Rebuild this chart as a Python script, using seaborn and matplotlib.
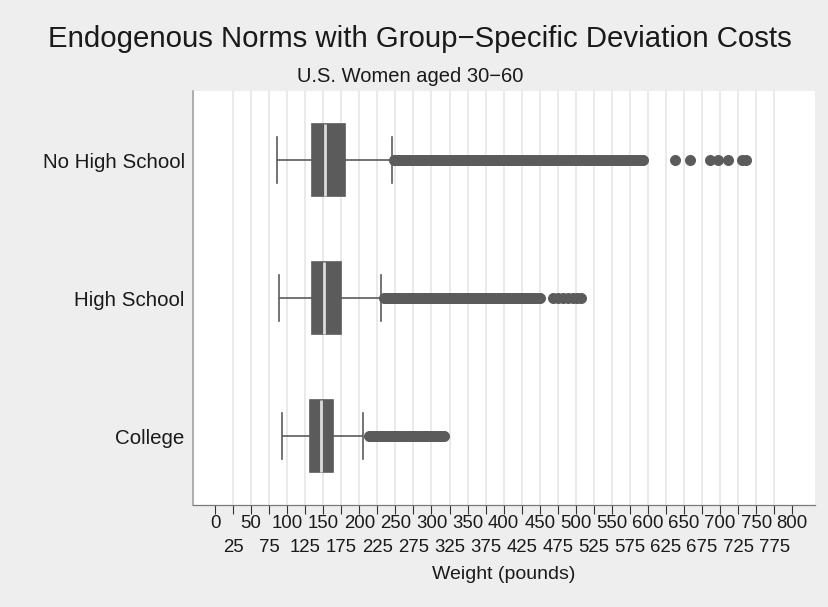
import matplotlib
matplotlib.use("Agg")
import matplotlib.pyplot as plt
import pandas as pd
import seaborn as sns

plt.rcParams['font.family'] = ['Liberation Sans', 'DejaVu Sans']

# ---------------- data ----------------
categories = ["No High School", "High School", "College"]
whisker_low = [85.5, 88.0, 93.5]
quartile_1 = [135.0, 135.0, 132.0]
medians = [152.5, 151.5, 146.5]
quartile_3 = [179.5, 174.5, 164.0]
whisker_high = [243.5, 230.0, 204.5]

outliers_no_high_school = [
    245, 248, 251, 254, 257, 260, 263, 266, 269, 272, 275, 278, 281, 284,
    287, 290, 293, 296, 299, 302, 305, 308, 311, 314, 317, 320, 323, 326,
    329, 332, 335, 338, 341, 344, 347, 350, 353, 356, 359, 362, 365, 368,
    371, 374, 377, 380, 383, 386, 389, 392, 395, 398, 401, 404, 407, 410,
    413, 416, 419, 422, 425,
    429, 433, 437, 441, 445, 449, 453, 457, 461, 465, 469, 473, 477, 481,
    485, 489, 493, 497, 501, 505, 509, 513, 517, 521, 525, 529, 533, 537,
    541, 545, 549, 553, 557, 561, 565, 569, 573, 577, 581, 585, 589, 593,
    637, 658, 686, 697, 711, 730, 736,
]
outliers_high_school = [
    234, 237, 240, 243, 246, 249, 252, 255, 258, 261, 264, 267, 270, 273,
    276, 279, 282, 285, 288, 291, 294, 297, 300, 303, 306, 309, 312, 315,
    318, 321, 324, 327, 330, 333, 336, 339, 342, 345, 348, 351, 354, 357,
    360, 363, 366, 369, 372, 375, 378, 381, 384, 387, 390, 393, 396, 399,
    402, 405, 408, 411, 414, 417, 420, 423, 426, 429, 432, 435, 438, 441,
    444, 447, 450,
    468, 475, 482, 489, 496, 502, 507,
]
outliers_college = [
    213, 216, 219, 222, 225, 228, 231, 234, 237, 240, 243, 246, 249, 252,
    255, 258, 261, 264, 267, 270, 273, 276, 279, 282, 285, 288, 291, 294,
    297, 300, 303, 306, 309, 312, 315, 318,
]
outliers = [outliers_no_high_school, outliers_high_school, outliers_college]

major_ticks = [0, 50, 100, 150, 200, 250, 300, 350, 400, 450, 500, 550,
               600, 650, 700, 750, 800]
minor_ticks = [25, 75, 125, 175, 225, 275, 325, 375, 425, 475, 525, 575,
               625, 675, 725, 775]
major_labels = [str(v) for v in major_ticks]
minor_labels = [str(v) for v in minor_ticks]

title = "Endogenous Norms with Group\u2212Specific Deviation Costs"
subtitle = "U.S. Women aged 30\u221260"
xlabel = "Weight (pounds)"

# Build observations whose quartiles / whiskers / outliers match the figure
block = 200
rows = []
for cat, lo, q1, md, q3, hi, fl in zip(categories, whisker_low, quartile_1,
                                       medians, quartile_3, whisker_high,
                                       outliers):
    vals = [lo] + [q1] * block + [md] * block + [q3] * block + [hi] + list(fl)
    rows += [(cat, v) for v in vals]
df = pd.DataFrame(rows, columns=["group", "weight"])

# ---------------- figure ----------------
W, H = 829, 607
bg = "#eeeeee"
box_color = "#5b5b5b"
text_color = "#1a1a1a"

fig = plt.figure(figsize=(W / 100, H / 100), dpi=100, facecolor=bg)
ax = fig.add_axes([193 / W, 1 - 505 / H, (815 - 193) / W, (505 - 91) / H])
ax.set_facecolor("white")
ax.set_axisbelow(True)

sns.boxplot(
    data=df, x="weight", y="group", order=categories, orient="h",
    color=box_color, linecolor=box_color, saturation=1, width=0.52,
    whis=1.5, linewidth=1.2, fliersize=7.2,
    medianprops=dict(color="#dcdcdc", linewidth=2.0),
    flierprops=dict(marker="o", markerfacecolor=box_color,
                    markeredgecolor=box_color, markeredgewidth=0.7),
    capwidths=0.34, ax=ax,
)

ax.set_xlim(-30.5, 831.5)
ax.set_ylim(2.5, -0.5)

ax.set_xticks(major_ticks)
ax.set_xticklabels(major_labels)
ax.set_xticks(minor_ticks, minor=True)
ax.set_xticklabels(minor_labels, minor=True)
ax.tick_params(axis="x", which="both", direction="out", length=6.5,
               width=0.8, color="#333333", labelsize=13.4,
               labelcolor=text_color)
ax.tick_params(axis="x", which="major", pad=1)
ax.tick_params(axis="x", which="minor", pad=18.3)
ax.tick_params(axis="y", length=0, pad=6, labelsize=14.8,
               labelcolor=text_color)

ax.grid(axis="x", which="both", color="#e4e4e4", linewidth=1.1)
ax.grid(axis="y", visible=False)
glines = ax.xaxis.get_gridlines()
glines[0].set_visible(False)
glines[-1].set_visible(False)

for s in ["top", "right"]:
    ax.spines[s].set_visible(False)
ax.spines["left"].set_color("#9a9a9a")
ax.spines["left"].set_linewidth(1.1)
ax.spines["bottom"].set_color("#7a7a7a")
ax.spines["bottom"].set_linewidth(0.9)

ax.set_ylabel("")
ax.set_xlabel(xlabel, fontsize=14, color=text_color, labelpad=7)

fig.text(420 / W, 1 - 47 / H, title, ha="center", va="baseline",
         fontsize=21.2, color=text_color)
fig.text(410 / W, 1 - 82 / H, subtitle, ha="center", va="baseline",
         fontsize=14.5, color=text_color)

fig.savefig("out.png", dpi=100, facecolor=bg)
